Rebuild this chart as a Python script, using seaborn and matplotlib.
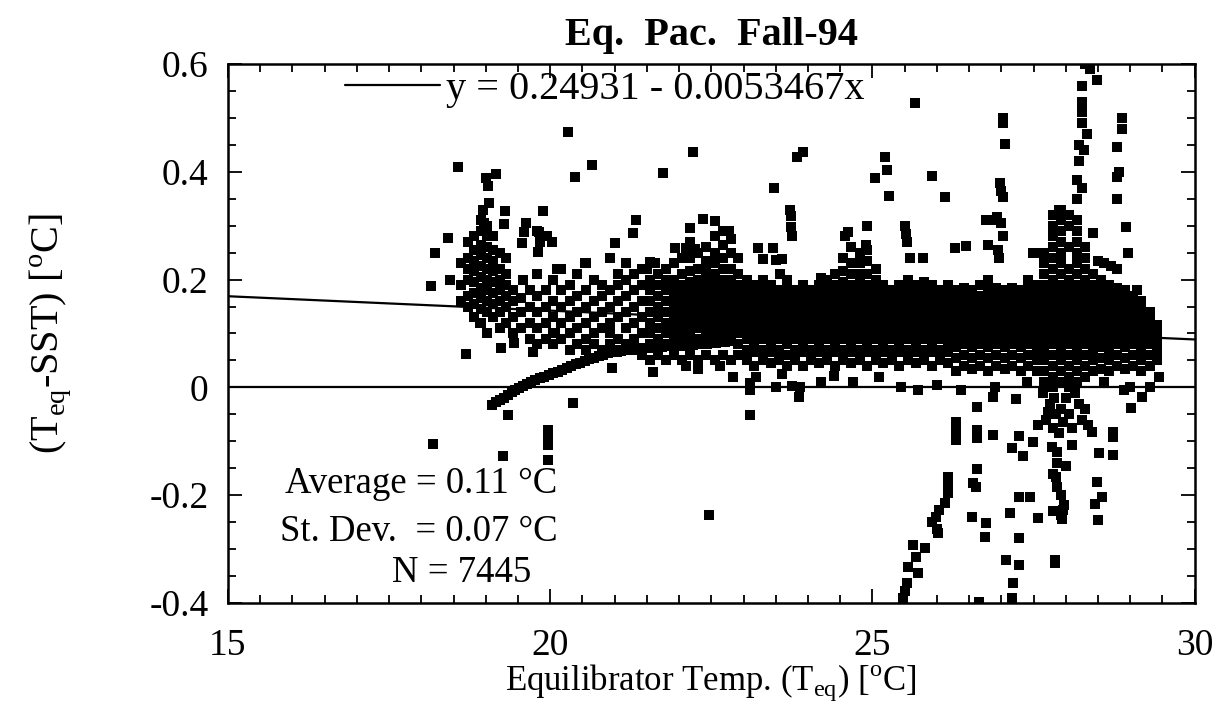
import matplotlib
matplotlib.use("Agg")
import matplotlib.pyplot as plt
from matplotlib.ticker import MultipleLocator, FuncFormatter
import pandas as pd
import seaborn as sns

# Fit and summary numbers printed on the chart
fit_a, fit_b = 0.24931, -0.0053467
average, st_dev, n_points = 0.11, 0.07, 7445

# Dense core read column by column (x in degC, y values of T_eq - SST)
core_x = [20.30, 20.42, 20.55, 20.68, 20.80, 20.93, 21.05, 21.18, 21.30, 21.42,
          21.55, 21.67, 21.80, 21.92, 22.05, 22.17, 22.30, 22.42, 22.55, 22.68,
          22.80, 22.92, 23.05, 23.17, 23.30, 23.42, 23.55, 23.67, 23.80, 23.92,
          24.05, 24.17, 24.30, 24.42, 24.55, 24.67, 24.80, 24.92, 25.05, 25.17,
          25.30, 25.42, 25.55, 25.67, 25.80, 25.92, 26.05, 26.17, 26.30, 26.42,
          26.55, 26.67, 26.80, 26.92, 27.05, 27.17, 27.30, 27.42, 27.55, 27.67,
          27.80, 27.92, 28.05, 28.17, 28.30, 28.42, 28.55, 28.67, 28.80, 28.92,
          29.05, 29.17, 29.30, 29.42]
core_y = [
    [0.07, 0.10, 0.13, 0.16, 0.19],
    [0.08, 0.11, 0.14, 0.17, 0.21],
    [0.07, 0.09, 0.12, 0.15, 0.18, 0.23],
    [0.08, 0.10, 0.13, 0.16, 0.20],
    [0.07, 0.11, 0.14, 0.17, 0.19],
    [0.08, 0.10, 0.12, 0.15, 0.18, 0.24],
    [0.07, 0.09, 0.13, 0.16, 0.19, 0.21],
    [0.08, 0.11, 0.14, 0.17, 0.20, 0.23],
    [0.07, 0.09, 0.12, 0.15, 0.18, 0.21],
    [0.06, 0.10, 0.13, 0.16, 0.19, 0.22],
    [0.05, 0.08, 0.10, 0.12, 0.14, 0.16, 0.18, 0.20, 0.23],
    [0.06, 0.09, 0.11, 0.13, 0.15, 0.17, 0.19, 0.21],
    [0.05, 0.08, 0.10, 0.12, 0.14, 0.16, 0.18, 0.20, 0.22],
    [0.06, 0.09, 0.105, 0.12, 0.135, 0.15, 0.165, 0.18, 0.20, 0.23],
    [0.05, 0.085, 0.10, 0.115, 0.13, 0.145, 0.16, 0.175, 0.19, 0.21, 0.24],
    [0.06, 0.09, 0.105, 0.12, 0.135, 0.15, 0.165, 0.18, 0.195, 0.215, 0.24, 0.27],
    [0.05, 0.09, 0.11, 0.125, 0.14, 0.155, 0.17, 0.185, 0.20, 0.22, 0.25],
    [0.06, 0.095, 0.11, 0.125, 0.14, 0.155, 0.17, 0.185, 0.20, 0.215, 0.235, 0.26],
    [0.05, 0.09, 0.105, 0.12, 0.135, 0.15, 0.165, 0.18, 0.195, 0.21, 0.23, 0.25, 0.28],
    [0.06, 0.095, 0.11, 0.125, 0.14, 0.155, 0.17, 0.185, 0.20, 0.22, 0.24, 0.265, 0.29],
    [0.05, 0.09, 0.105, 0.12, 0.135, 0.15, 0.165, 0.18, 0.20, 0.22, 0.25, 0.275],
    [0.06, 0.08, 0.10, 0.115, 0.13, 0.145, 0.16, 0.175, 0.19, 0.21, 0.24],
    [0.05, 0.07, 0.09, 0.105, 0.12, 0.135, 0.15, 0.165, 0.18, 0.20],
    [0.04, 0.065, 0.085, 0.10, 0.115, 0.13, 0.145, 0.16, 0.175, 0.19],
    [0.05, 0.07, 0.09, 0.105, 0.12, 0.135, 0.15, 0.165, 0.18, 0.20],
    [0.045, 0.065, 0.085, 0.10, 0.115, 0.13, 0.145, 0.16, 0.175, 0.19],
    [0.05, 0.07, 0.09, 0.105, 0.12, 0.135, 0.15, 0.165, 0.18],
    [0.04, 0.06, 0.08, 0.095, 0.11, 0.125, 0.14, 0.155, 0.17, 0.185, 0.20],
    [0.05, 0.07, 0.09, 0.105, 0.12, 0.135, 0.15, 0.165, 0.18],
    [0.04, 0.065, 0.085, 0.10, 0.115, 0.13, 0.145, 0.16, 0.175, 0.19],
    [0.05, 0.07, 0.09, 0.105, 0.12, 0.135, 0.15, 0.165, 0.18],
    [0.045, 0.065, 0.085, 0.10, 0.115, 0.13, 0.145, 0.16, 0.175, 0.19],
    [0.05, 0.07, 0.09, 0.105, 0.12, 0.135, 0.15, 0.165, 0.18, 0.20],
    [0.04, 0.065, 0.085, 0.10, 0.115, 0.13, 0.145, 0.16, 0.175, 0.19, 0.21],
    [0.05, 0.07, 0.09, 0.105, 0.12, 0.135, 0.15, 0.165, 0.18, 0.195, 0.215, 0.24],
    [0.045, 0.065, 0.085, 0.10, 0.115, 0.13, 0.145, 0.16, 0.175, 0.19, 0.21, 0.23],
    [0.05, 0.07, 0.09, 0.105, 0.12, 0.135, 0.15, 0.165, 0.18, 0.195, 0.21, 0.23, 0.25],
    [0.04, 0.065, 0.085, 0.10, 0.115, 0.13, 0.145, 0.16, 0.175, 0.19, 0.21, 0.235, 0.255],
    [0.05, 0.07, 0.09, 0.105, 0.12, 0.135, 0.15, 0.165, 0.18, 0.20, 0.22],
    [0.045, 0.065, 0.085, 0.10, 0.115, 0.13, 0.145, 0.16, 0.175, 0.19],
    [0.05, 0.07, 0.09, 0.105, 0.12, 0.135, 0.15, 0.165, 0.18],
    [0.04, 0.065, 0.085, 0.10, 0.115, 0.13, 0.145, 0.16, 0.175, 0.19],
    [0.05, 0.07, 0.09, 0.105, 0.12, 0.135, 0.15, 0.165, 0.18, 0.20],
    [0.045, 0.065, 0.085, 0.10, 0.115, 0.13, 0.145, 0.16, 0.175, 0.19],
    [0.05, 0.07, 0.09, 0.105, 0.12, 0.135, 0.15, 0.165, 0.18, 0.195],
    [0.04, 0.065, 0.085, 0.10, 0.115, 0.13, 0.145, 0.16, 0.175, 0.19],
    [0.05, 0.07, 0.09, 0.105, 0.12, 0.135, 0.15, 0.165, 0.18],
    [0.045, 0.065, 0.085, 0.10, 0.115, 0.13, 0.145, 0.16, 0.175, 0.19],
    [0.03, 0.055, 0.075, 0.09, 0.105, 0.12, 0.135, 0.15, 0.165, 0.18],
    [0.04, 0.06, 0.08, 0.095, 0.11, 0.125, 0.14, 0.155, 0.17, 0.185],
    [0.035, 0.055, 0.075, 0.09, 0.105, 0.12, 0.135, 0.15, 0.165, 0.18],
    [0.04, 0.06, 0.08, 0.095, 0.11, 0.125, 0.14, 0.155, 0.17, 0.19],
    [0.03, 0.055, 0.075, 0.09, 0.105, 0.12, 0.135, 0.15, 0.165, 0.18, 0.20],
    [0.04, 0.06, 0.08, 0.095, 0.11, 0.125, 0.14, 0.155, 0.17, 0.185],
    [0.035, 0.055, 0.075, 0.09, 0.105, 0.12, 0.135, 0.15, 0.165, 0.18],
    [0.04, 0.06, 0.08, 0.095, 0.11, 0.125, 0.14, 0.155, 0.17, 0.185],
    [0.03, 0.055, 0.075, 0.09, 0.105, 0.12, 0.135, 0.15, 0.165, 0.18],
    [0.04, 0.06, 0.08, 0.095, 0.11, 0.125, 0.14, 0.155, 0.17, 0.185, 0.20],
    [0.03, 0.05, 0.07, 0.085, 0.10, 0.115, 0.13, 0.145, 0.16, 0.175, 0.19],
    [0.01, 0.03, 0.05, 0.07, 0.085, 0.10, 0.115, 0.13, 0.145, 0.16, 0.175, 0.19, 0.21, 0.23, 0.25],
    [0.0, 0.02, 0.04, 0.06, 0.08, 0.095, 0.11, 0.125, 0.14, 0.155, 0.17, 0.185, 0.20, 0.22, 0.24, 0.26, 0.28, 0.30, 0.32],
    [0.01, 0.03, 0.05, 0.07, 0.085, 0.10, 0.115, 0.13, 0.145, 0.16, 0.175, 0.19, 0.21, 0.23, 0.25, 0.27, 0.29, 0.31, 0.33],
    [0.0, 0.02, 0.04, 0.06, 0.08, 0.095, 0.11, 0.125, 0.14, 0.155, 0.17, 0.185, 0.20, 0.22, 0.26, 0.30, 0.32],
    [0.01, 0.03, 0.05, 0.07, 0.085, 0.10, 0.115, 0.13, 0.145, 0.16, 0.175, 0.19, 0.21, 0.23, 0.25, 0.27, 0.29, 0.31],
    [0.02, 0.04, 0.06, 0.08, 0.095, 0.11, 0.125, 0.14, 0.155, 0.17, 0.185, 0.20, 0.22, 0.24, 0.26],
    [0.03, 0.05, 0.07, 0.085, 0.10, 0.115, 0.13, 0.145, 0.16, 0.175, 0.19, 0.21],
    [0.035, 0.055, 0.075, 0.09, 0.105, 0.12, 0.135, 0.15, 0.165, 0.18, 0.20],
    [0.03, 0.05, 0.07, 0.085, 0.10, 0.115, 0.13, 0.145, 0.16, 0.175, 0.19],
    [0.04, 0.06, 0.08, 0.095, 0.11, 0.125, 0.14, 0.155, 0.17, 0.185],
    [0.035, 0.055, 0.075, 0.09, 0.105, 0.12, 0.135, 0.15, 0.165, 0.18],
    [0.04, 0.06, 0.08, 0.095, 0.11, 0.125, 0.14, 0.155, 0.17],
    [0.03, 0.05, 0.07, 0.085, 0.10, 0.115, 0.13, 0.145, 0.16],
    [0.04, 0.06, 0.08, 0.095, 0.11, 0.125, 0.14],
    [0.05, 0.07, 0.085, 0.10, 0.115],
]

# Western cluster near 18.5-20.2 degC
west_x = [18.62, 18.72, 18.82, 18.92, 19.02, 19.12, 19.22, 19.32, 19.42, 19.55,
          19.68, 19.80, 19.93, 20.05, 20.17]
west_y = [
    [0.16, 0.19, 0.23],
    [0.15, 0.17, 0.20, 0.22, 0.24, 0.27],
    [0.13, 0.155, 0.175, 0.195, 0.215, 0.235, 0.255, 0.28],
    [0.12, 0.145, 0.165, 0.185, 0.205, 0.225, 0.245, 0.265, 0.29, 0.31],
    [0.10, 0.14, 0.16, 0.18, 0.20, 0.22, 0.24, 0.26, 0.28, 0.30],
    [0.13, 0.155, 0.175, 0.195, 0.215, 0.235, 0.255, 0.28],
    [0.11, 0.14, 0.16, 0.18, 0.20, 0.22, 0.25],
    [0.12, 0.15, 0.17, 0.19, 0.21, 0.24],
    [0.10, 0.13, 0.16, 0.18],
    [0.11, 0.14, 0.165],
    [0.09, 0.12, 0.15, 0.18],
    [0.08, 0.11, 0.14, 0.17, 0.21],
    [0.09, 0.12, 0.15, 0.18],
    [0.08, 0.10, 0.13, 0.16, 0.20],
    [0.09, 0.12, 0.15, 0.18, 0.22],
]

# Thin curved arc of points rising from 19.1 to 22.8 degC
arc_x = [19.10, 19.16, 19.22, 19.28, 19.34, 19.40, 19.46, 19.52, 19.58, 19.64,
         19.70, 19.77, 19.84, 19.91, 19.98, 20.05, 20.12, 20.19, 20.26, 20.33,
         20.40, 20.47, 20.54, 20.61, 20.68, 20.75, 20.82, 20.89, 20.96, 21.03,
         21.10, 21.17, 21.24, 21.31, 21.38, 21.45, 21.52, 21.59, 21.66, 21.73,
         21.80, 21.87, 21.94, 22.01, 22.08, 22.15, 22.22, 22.29, 22.36, 22.43,
         22.50, 22.57, 22.64, 22.71, 22.78]
arc_y = [-0.033, -0.028, -0.024, -0.019, -0.014, -0.009, -0.005, -0.001, 0.003, 0.007,
         0.010, 0.014, 0.017, 0.020, 0.023, 0.026, 0.029, 0.033, 0.036, 0.039,
         0.043, 0.046, 0.049, 0.052, 0.055, 0.058, 0.061, 0.063, 0.065, 0.066,
         0.068, 0.069, 0.070, 0.071, 0.072, 0.073, 0.074, 0.074, 0.075, 0.075,
         0.076, 0.076, 0.077, 0.077, 0.078, 0.078, 0.079, 0.080, 0.080, 0.081,
         0.082, 0.083, 0.084, 0.085, 0.086]

# Scattered single points above the core
upper_x = [18.57, 19.00, 19.16, 19.03, 19.05, 19.30, 18.96, 19.89, 19.28, 18.97,
           18.41, 19.60, 19.82, 19.84, 19.56, 19.81, 18.21, 18.44, 18.15, 19.58,
           18.69, 18.91, 19.24, 19.44, 19.73, 19.63, 19.80, 20.27, 20.38, 20.65,
           21.75, 22.21, 23.48, 23.83, 23.92, 20.03, 19.95, 21.33, 21.28, 21.00,
           20.93, 20.54, 22.17, 22.37, 22.55, 22.78, 21.93, 22.10, 22.25, 23.22,
           23.30, 23.60, 23.56, 23.72, 23.73, 23.73, 23.76, 24.20, 24.62, 24.57,
           24.91, 24.67, 24.90, 21.55, 21.62, 21.50, 21.17, 20.10, 25.66, 25.04,
           25.20, 25.22, 25.25, 25.93, 26.12, 25.50, 25.52, 25.53, 25.58, 25.78,
           26.28, 26.45, 27.49, 27.63, 23.45, 23.50, 28.37, 28.48, 28.26, 28.25,
           28.25, 28.25, 28.20, 28.21, 28.17, 28.17, 28.26, 28.88, 28.88, 28.79,
           28.83, 28.79, 28.80, 28.94, 28.97, 27.02, 27.02, 27.05, 26.98, 27.00,
           27.03, 26.93, 27.00, 27.02, 26.77, 26.85, 26.80, 26.95, 26.97, 27.90,
           28.42, 28.50, 28.60, 28.70, 28.80, 29.10, 28.30, 28.33, 28.29]
upper_y = [0.409, 0.388, 0.396, 0.374, 0.342, 0.327, 0.329, 0.327, 0.303, 0.305,
           0.277, 0.288, 0.288, 0.270, 0.268, 0.252, 0.250, 0.200, 0.188, 0.200,
           0.062, 0.119, 0.073, 0.082, 0.066, 0.305, 0.290, 0.474, 0.390, 0.413,
           0.398, 0.437, 0.370, 0.428, 0.437, 0.270, 0.280, 0.310, 0.286, 0.268,
           0.240, 0.230, 0.296, 0.312, 0.309, 0.290, 0.258, 0.258, 0.256, 0.258,
           0.238, 0.238, 0.210, 0.329, 0.318, 0.298, 0.280, 0.203, 0.289, 0.280,
           0.300, 0.260, 0.265, 0.232, 0.230, 0.220, 0.230, 0.220, 0.527, 0.388,
           0.428, 0.404, 0.355, 0.392, 0.353, 0.300, 0.285, 0.270, 0.240, 0.240,
           0.258, 0.262, 0.250, 0.250, 0.258, 0.236, 0.590, 0.570, 0.560, 0.530,
           0.510, 0.490, 0.450, 0.420, 0.385, 0.350, 0.370, 0.500, 0.480, 0.446,
           0.400, 0.390, 0.350, 0.298, 0.250, 0.500, 0.490, 0.452, 0.380, 0.365,
           0.353, 0.316, 0.305, 0.280, 0.310, 0.310, 0.265, 0.255, 0.240, 0.330,
           0.286, 0.235, 0.230, 0.225, 0.220, 0.180, 0.600, 0.470, 0.440]

# Scattered points near zero and the downward plumes
lower_x = [19.34, 19.96, 19.96, 19.96, 19.96, 20.35, 18.18, 19.27, 23.10, 22.46,
           23.86, 23.10, 23.10, 23.50, 23.75, 23.88, 24.40, 20.96, 21.60, 22.84,
           22.63, 20.07, 20.93, 23.20, 23.60, 22.30, 22.10,
           26.30, 26.30, 26.30, 26.17, 26.17, 26.17, 26.12, 26.04, 25.98, 25.92,
           26.00, 26.02, 25.81, 25.63, 25.68, 25.56, 25.70, 25.53, 25.50, 25.48,
           26.62, 26.62, 26.63, 26.62, 26.56, 26.60, 26.54, 26.77, 26.74, 26.87,
           26.66, 27.16, 27.28, 27.33, 27.13, 27.27, 27.08, 27.27, 27.18, 27.16,
           27.28, 27.45, 27.49, 27.57, 27.57,
           27.65, 27.75, 27.70, 27.82, 27.85, 27.80, 27.92, 27.95, 28.00, 28.05,
           28.10, 28.20, 28.25, 28.30, 28.35, 27.90, 27.73, 28.15,
           27.78, 27.86, 27.86, 27.85, 27.80, 28.00, 27.87, 27.93, 27.98, 27.96,
           27.92, 27.94, 27.80, 27.83, 27.84, 28.10, 28.40, 28.52, 28.73, 28.48,
           28.56, 28.45, 28.50, 28.73, 28.73, 29.02, 29.19, 27.23, 26.87, 26.38,
           25.45, 25.70, 26.00, 26.90, 27.40, 29.00, 28.60, 28.90, 24.70, 25.10,
           24.20, 29.45, 29.30]
lower_y = [-0.051, -0.079, -0.098, -0.107, -0.135, -0.029, -0.105, -0.127, -0.051, -0.237,
           -0.018, -0.005, 0.008, 0.000, 0.002, 0.000, 0.021, 0.036, 0.029, 0.019,
           0.040, 0.100, 0.106, 0.020, 0.025, 0.035, 0.040,
           -0.064, -0.080, -0.098, -0.166, -0.180, -0.196, -0.214, -0.228, -0.240, -0.250,
           -0.262, -0.270, -0.298, -0.292, -0.314, -0.333, -0.344, -0.363, -0.378, -0.390,
           -0.036, -0.079, -0.093, -0.151, -0.177, -0.185, -0.240, -0.252, -0.277, -0.088,
           -0.398, -0.112, -0.090, -0.127, -0.233, -0.280, -0.320, -0.330, -0.363, -0.390,
           -0.203, -0.203, -0.101, -0.070, -0.243,
           -0.010, -0.030, -0.060, -0.020, -0.050, -0.075, -0.040, -0.065, -0.020, -0.050,
           -0.075, -0.030, -0.060, -0.040, -0.070, -0.085, -0.045, -0.010,
           -0.110, -0.120, -0.140, -0.166, -0.160, -0.145, -0.185, -0.200, -0.218, -0.228,
           -0.237, -0.245, -0.229, -0.320, -0.325, -0.107, -0.083, -0.122, -0.125, -0.175,
           -0.203, -0.216, -0.246, -0.083, -0.092, -0.038, -0.018, -0.022, -0.018, -0.005,
           0.000, -0.005, 0.005, 0.000, 0.010, 0.000, 0.010, -0.005, 0.010, 0.020,
           0.010, 0.020, 0.000]

# Build one long table from the named arrays
xs, ys = [], []
for cx, cols in ((core_x, core_y), (west_x, west_y)):
    for x, col in zip(cx, cols):
        xs += [x] * len(col)
        ys += col
xs += arc_x + upper_x + lower_x
ys += arc_y + upper_y + lower_y
df = pd.DataFrame({"Teq": xs, "dT": ys})

sns.set_theme(style="ticks")
plt.rcParams["font.family"] = ["Liberation Serif", "DejaVu Serif"]
plt.rcParams["mathtext.fontset"] = "custom"
plt.rcParams["mathtext.rm"] = "Liberation Serif"
plt.rcParams["axes.unicode_minus"] = False
for key in ("text.color", "axes.labelcolor", "xtick.color", "ytick.color"):
    plt.rcParams[key] = "black"

fig = plt.figure(figsize=(12.19, 7.10), dpi=100)
ax = fig.add_axes([0.187, 0.1507, 0.793, 0.7592])

sns.scatterplot(data=df, x="Teq", y="dT", color="black", marker="s", s=60,
                linewidth=0, ax=ax, legend=False)

fit_x = [15, 30]
fit_y = [fit_a + fit_b * v for v in fit_x]
ax.plot(fit_x, fit_y, color="black", lw=1.6,
        label="y = 0.24931 - 0.0053467x")
ax.axhline(0, color="black", lw=1.6)

ax.set_xlim(15, 30)
ax.set_ylim(-0.4, 0.6)
ax.xaxis.set_major_locator(MultipleLocator(5))
ax.xaxis.set_minor_locator(MultipleLocator(0.5))
ax.yaxis.set_major_locator(MultipleLocator(0.2))
ax.yaxis.set_minor_locator(MultipleLocator(0.05))
ax.yaxis.set_major_formatter(FuncFormatter(lambda v, p: "0" if abs(v) < 1e-9 else f"{v:.1f}"))
ax.tick_params(which="both", direction="in", top=True, right=True, labelsize=27,
               width=1.3, colors="black")
ax.tick_params(which="major", length=10)
ax.tick_params(axis="x", which="major", pad=18)
ax.tick_params(axis="y", which="major", pad=14)
ax.tick_params(which="minor", length=6)
for sp in ax.spines.values():
    sp.set_linewidth(1.8)
    sp.set_color("black")

ax.set_xlabel(r"Equilibrator Temp. (T$_{\rm eq}$) [$^{\rm o}$C]", fontsize=25, labelpad=0)
ax.set_ylabel(r"(T$_{\rm eq}$-SST) [$^{\rm o}$C]", fontsize=29, labelpad=55)
ax.set_title("Eq.  Pac.  Fall-94", fontsize=29, fontweight="bold", pad=14)

ax.legend(loc="center left", bbox_to_anchor=(0.121, 0.952), frameon=False,
          fontsize=29, handlelength=2.35, handletextpad=0.15, borderpad=0,
          borderaxespad=0)

ax.text(15.88, -0.179, f"Average = {average:.2f} °C", fontsize=26.5, va="center")
ax.text(15.80, -0.268, f"St. Dev.  = {st_dev:.2f} °C", fontsize=26.5, va="center")
ax.text(17.55, -0.344, f"N = {n_points}", fontsize=26.5, va="center")

fig.savefig("out.png", dpi=100)
